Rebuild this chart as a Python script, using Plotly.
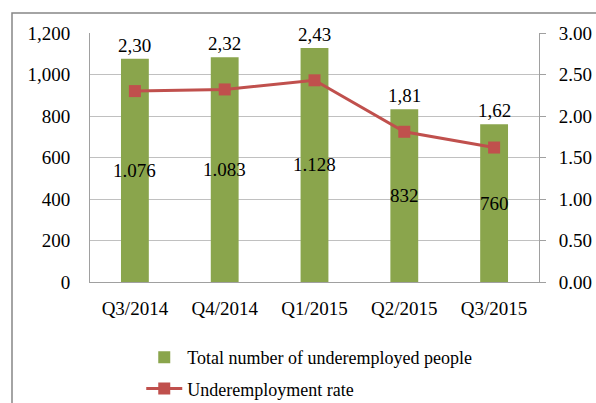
import plotly.graph_objects as go

categories = ["Q3/2014", "Q4/2014", "Q1/2015", "Q2/2015", "Q3/2015"]
total_underemployed = [1076, 1083, 1128, 832, 760]
total_labels = ["1.076", "1.083", "1.128", "832", "760"]
underemployment_rate = [2.30, 2.32, 2.43, 1.81, 1.62]
rate_labels = ["2,30", "2,32", "2,43", "1,81", "1,62"]
left_ticks = [0, 200, 400, 600, 800, 1000, 1200]
left_tick_text = ["0", "200", "400", "600", "800", "1,000", "1,200"]
right_ticks = [0, 0.5, 1.0, 1.5, 2.0, 2.5, 3.0]
right_tick_text = ["0.00", "0.50", "1.00", "1.50", "2.00", "2.50", "3.00"]

FONT = "'Liberation Serif', 'Times New Roman', serif"
FS = 19
GREEN = "#8aa54c"
RED = "#c0504d"
GRID = "#c0c0c0"
TF = dict(family=FONT, size=FS, color="black")

fig = go.Figure()
fig.add_trace(go.Bar(
    x=categories, y=total_underemployed, name="Total number of underemployed people",
    marker=dict(color=GREEN, line=dict(width=0)), width=0.31, yaxis="y",
    legendgroup="a",
))
fig.add_trace(go.Scatter(
    x=categories, y=underemployment_rate, name="Underemployment rate",
    mode="lines+markers", line=dict(color=RED, width=3),
    marker=dict(symbol="square", size=12, color=RED), yaxis="y2",
    legendgroup="b",
))

annotations = []
for c, v, t in zip(categories, total_underemployed, total_labels):
    annotations.append(dict(x=c, y=v / 2, xref="x", yref="y", text=t, showarrow=False,
                            font=TF))
for c, v, t in zip(categories, total_underemployed, rate_labels):
    annotations.append(dict(x=c, y=v, xref="x", yref="y", text=t, showarrow=False,
                            yanchor="bottom", yshift=1, font=TF))

# plot area: x 90..539, y 33..282
fig.update_layout(
    width=596, height=403,
    margin=dict(l=90, r=57, t=33, b=121, pad=0, autoexpand=False),
    paper_bgcolor="white", plot_bgcolor="white",
    font=TF,
    bargap=0.69,
    showlegend=True,
    legend=dict(xref="container", yref="container", x=0.237, y=1 - 339 / 403,
                xanchor="left", yanchor="top",
                font=dict(family=FONT, size=18, color="black"),
                tracegroupgap=5, itemwidth=36, bgcolor="rgba(0,0,0,0)"),
    xaxis=dict(showgrid=False, showline=True, linecolor="#a0a0a0", linewidth=1,
               ticks="", ticklabelstandoff=9, tickfont=TF, automargin=False),
    yaxis=dict(range=[0, 1200], tickvals=left_ticks, ticktext=left_tick_text,
               showgrid=True, gridcolor=GRID, gridwidth=1, zeroline=False,
               showline=True, linecolor="#a0a0a0", linewidth=1,
               ticks="", ticklabelstandoff=15, tickfont=TF, automargin=False),
    yaxis2=dict(range=[0, 3.0], tickvals=right_ticks, ticktext=right_tick_text,
                overlaying="y", side="right", showgrid=False, zeroline=False,
                showline=True, linecolor="#a0a0a0", linewidth=1,
                ticks="outside", ticklen=6, tickcolor="#a0a0a0",
                ticklabelstandoff=9, tickfont=TF, automargin=False),
    annotations=annotations,
    shapes=[dict(type="rect", xref="paper", yref="paper",
                 x0=(12 - 90) / 449, x1=(620 - 90) / 449,
                 y0=(282 - 430) / 249, y1=(282 - 13) / 249,
                 line=dict(color="#868686", width=1.5), fillcolor="rgba(0,0,0,0)",
                 layer="below")],
)

fig.write_html("out.html", config={"displayModeBar": False},
               post_script="document.body.style.margin='0';document.body.style.overflow='hidden';")
